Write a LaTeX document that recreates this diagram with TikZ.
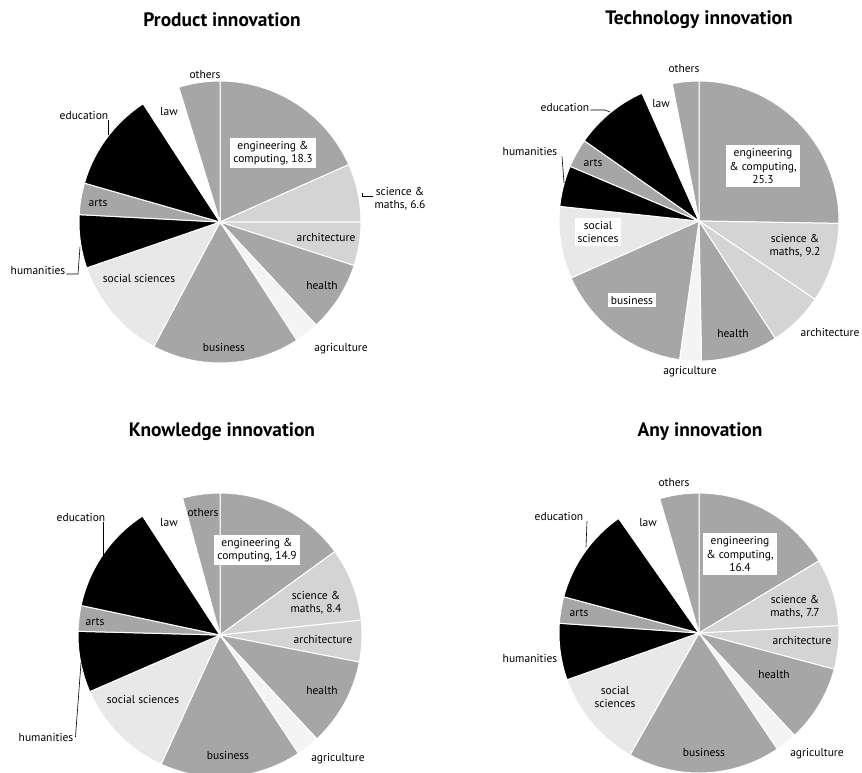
\documentclass[tikz,border=0pt]{standalone}
\usepackage{fontspec}
\setmainfont{PT Sans}
\usepackage{tikz}

\definecolor{dkgray}{HTML}{A6A6A6}
\definecolor{ltgray}{HTML}{D4D4D4}
\definecolor{palegray}{HTML}{E8E8E8}
\definecolor{faintgray}{HTML}{F4F4F4}

\begin{document}
\begin{tikzpicture}[x=1pt,y=1pt,
    sl/.style={draw=white,line width=1pt},
    dk/.style={sl,fill=dkgray},
    lt/.style={sl,fill=ltgray},
    pale/.style={sl,fill=palegray},
    faint/.style={sl,fill=faintgray},
    blk/.style={sl,fill=black},
    wht/.style={sl,fill=white},
    ttl/.style={font=\fontsize{19.4}{22}\selectfont\bfseries},
    lbl/.style={font=\fontsize{11.5}{13.5}\selectfont,align=center,inner sep=1pt},
    box/.style={lbl,fill=white,inner sep=3pt},
    lead/.style={draw=black,line width=0.6pt}]
    \useasboundingbox (0,0) rectangle (862,-772);

    % Product innovation
    \coordinate (pc) at (220,-222);
    \filldraw[dk] (pc) -- ++(90:141) arc[start angle=90,end angle=24,radius=141] -- cycle;
    \filldraw[lt] (pc) -- ++(24:141) arc[start angle=24,end angle=0,radius=141] -- cycle;
    \filldraw[lt] (pc) -- ++(0:141) arc[start angle=0,end angle=-18,radius=141] -- cycle;
    \filldraw[dk] (pc) -- ++(-18:141) arc[start angle=-18,end angle=-47,radius=141] -- cycle;
    \filldraw[faint] (pc) -- ++(-47:141) arc[start angle=-47,end angle=-57,radius=141] -- cycle;
    \filldraw[dk] (pc) -- ++(-57:141) arc[start angle=-57,end angle=-118,radius=141] -- cycle;
    \filldraw[pale] (pc) -- ++(-118:141) arc[start angle=-118,end angle=-161,radius=141] -- cycle;
    \filldraw[blk] (pc) -- ++(-161:141) arc[start angle=-161,end angle=-183,radius=141] -- cycle;
    \filldraw[dk] (pc) -- ++(-183:141) arc[start angle=-183,end angle=-196,radius=141] -- cycle;
    \filldraw[blk] (pc) -- ++(-196:141) arc[start angle=-196,end angle=-237,radius=141] -- cycle;
    \filldraw[wht] (pc) -- ++(-237:141) arc[start angle=-237,end angle=-253,radius=141] -- cycle;
    \filldraw[dk] (pc) -- ++(-253:141) arc[start angle=-253,end angle=-270,radius=141] -- cycle;
    \node[ttl] (pttl) at (222,-20) {Product innovation};
    \node[box] (peng) at (273,-153) {engineering \&\\computing, 18.3};
    \node[lbl] (psci) at (400,-199) {science \&\\maths, 6.6};
    \node[lbl] (parch) at (326,-237) {architecture};
    \node[lbl] (phlth) at (322,-286) {health};
    \node[lbl] (pagri) at (341,-349) {agriculture};
    \node[lbl] (pbus) at (224,-347) {business};
    \node[lbl] (psoc) at (139,-278) {social sciences};
    \node[lbl] (phum) at (38,-270) {humanities};
    \node[lbl] (parts) at (98,-203) {arts};
    \node[lbl] (pedu) at (84,-115) {education};
    \node[lbl] (plaw) at (169,-112) {law};
    \node[lbl] (poth) at (205,-75) {others};
    \coordinate (pscitip) at (362,-193);
    \coordinate (phumtip) at (80,-247);
    \coordinate (pedutip) at (108,-135);
    \draw[lead] (psci.west |- 0,-196) -- (362,-196) -- (pscitip);
    \draw[lead] ([yshift=-4pt]phum.east) -- (78,-274) -- (phumtip);
    \draw[lead] (pedutip |- pedu.south) -- (pedutip);

    % Technology innovation
    \coordinate (tc) at (699,-221);
    \filldraw[dk] (tc) -- ++(90:140) arc[start angle=90,end angle=-1,radius=140] -- cycle;
    \filldraw[lt] (tc) -- ++(-1:140) arc[start angle=-1,end angle=-34,radius=140] -- cycle;
    \filldraw[lt] (tc) -- ++(-34:140) arc[start angle=-34,end angle=-57,radius=140] -- cycle;
    \filldraw[dk] (tc) -- ++(-57:140) arc[start angle=-57,end angle=-89,radius=140] -- cycle;
    \filldraw[faint] (tc) -- ++(-89:140) arc[start angle=-89,end angle=-98,radius=140] -- cycle;
    \filldraw[dk] (tc) -- ++(-98:140) arc[start angle=-98,end angle=-156,radius=140] -- cycle;
    \filldraw[pale] (tc) -- ++(-156:140) arc[start angle=-156,end angle=-186,radius=140] -- cycle;
    \filldraw[blk] (tc) -- ++(-186:140) arc[start angle=-186,end angle=-203,radius=140] -- cycle;
    \filldraw[dk] (tc) -- ++(-203:140) arc[start angle=-203,end angle=-215,radius=140] -- cycle;
    \filldraw[blk] (tc) -- ++(-215:140) arc[start angle=-215,end angle=-246,radius=140] -- cycle;
    \filldraw[wht] (tc) -- ++(-246:140) arc[start angle=-246,end angle=-259,radius=140] -- cycle;
    \filldraw[dk] (tc) -- ++(-259:140) arc[start angle=-259,end angle=-270,radius=140] -- cycle;
    \node[ttl] (tttl) at (699,-20) {Technology innovation};
    \node[box] (teng) at (763,-166) {engineering\\\& computing,\\25.3};
    \node[lbl] (tsci) at (795,-246) {science \&\\maths, 9.2};
    \node[lbl] (tarch) at (830,-332) {architecture};
    \node[lbl] (thlth) at (733,-334) {health};
    \node[lbl] (tagri) at (690,-372) {agriculture};
    \node[box] (tbus) at (632,-300) {business};
    \node[box] (tsoc) at (598,-232) {social\\sciences};
    \node[lbl] (thum) at (530,-151) {humanities};
    \node[lbl] (tarts) at (593,-163) {arts};
    \node[lbl] (tedu) at (565,-107) {education};
    \node[lbl] (tlaw) at (661,-104) {law};
    \node[lbl] (toth) at (684,-69) {others};
    \coordinate (tedutip) at (610,-112);
    \coordinate (thumtip) at (564,-183);
    \draw[lead] (tedu.east |- 0,-110) -- (605,-110) -- (tedutip);
    \draw[lead] (562,-157 |- thum.south) -- (thumtip);

    % Knowledge innovation
    \coordinate (kc) at (220,-635);
    \filldraw[dk] (kc) -- ++(90:142) arc[start angle=90,end angle=36,radius=142] -- cycle;
    \filldraw[lt] (kc) -- ++(36:142) arc[start angle=36,end angle=6,radius=142] -- cycle;
    \filldraw[lt] (kc) -- ++(6:142) arc[start angle=6,end angle=-11,radius=142] -- cycle;
    \filldraw[dk] (kc) -- ++(-11:142) arc[start angle=-11,end angle=-47,radius=142] -- cycle;
    \filldraw[faint] (kc) -- ++(-47:142) arc[start angle=-47,end angle=-56.5,radius=142] -- cycle;
    \filldraw[dk] (kc) -- ++(-56.5:142) arc[start angle=-56.5,end angle=-114.5,radius=142] -- cycle;
    \filldraw[pale] (kc) -- ++(-114.5:142) arc[start angle=-114.5,end angle=-156.5,radius=142] -- cycle;
    \filldraw[blk] (kc) -- ++(-156.5:142) arc[start angle=-156.5,end angle=-181.5,radius=142] -- cycle;
    \filldraw[dk] (kc) -- ++(-181.5:142) arc[start angle=-181.5,end angle=-192,radius=142] -- cycle;
    \filldraw[blk] (kc) -- ++(-192:142) arc[start angle=-192,end angle=-237,radius=142] -- cycle;
    \filldraw[wht] (kc) -- ++(-237:142) arc[start angle=-237,end angle=-254.7,radius=142] -- cycle;
    \filldraw[dk] (kc) -- ++(-254.7:142) arc[start angle=-254.7,end angle=-270,radius=142] -- cycle;
    \node[ttl] (kttl) at (222,-432) {Knowledge innovation};
    \node[box] (keng) at (257,-550) {engineering \&\\computing, 14.9};
    \node[lbl] (ksci) at (316,-603) {science \&\\maths, 8.4};
    \node[lbl] (karch) at (323,-639) {architecture};
    \node[lbl] (khlth) at (322,-691) {health};
    \node[lbl] (kagri) at (338,-759) {agriculture};
    \node[lbl] (kbus) at (228,-755) {business};
    \node[lbl] (ksoc) at (143,-699) {social sciences};
    \node[lbl] (khum) at (46,-737) {humanities};
    \node[lbl] (karts) at (95,-622) {arts};
    \node[lbl] (kedu) at (81,-517) {education};
    \node[lbl] (klaw) at (169,-523) {law};
    \node[lbl] (koth) at (203,-513) {others};
    \coordinate (kedutip) at (103,-556);
    \coordinate (khumtip) at (81,-663);
    \draw[lead] (kedutip |- kedu.south) -- (kedutip);
    \draw[lead] ([xshift=1pt]khum.east) -- (khumtip);

    % Any innovation
    \coordinate (ac) at (699,-633);
    \filldraw[dk] (ac) -- ++(90:140) arc[start angle=90,end angle=31,radius=140] -- cycle;
    \filldraw[lt] (ac) -- ++(31:140) arc[start angle=31,end angle=3,radius=140] -- cycle;
    \filldraw[lt] (ac) -- ++(3:140) arc[start angle=3,end angle=-15,radius=140] -- cycle;
    \filldraw[dk] (ac) -- ++(-15:140) arc[start angle=-15,end angle=-47,radius=140] -- cycle;
    \filldraw[faint] (ac) -- ++(-47:140) arc[start angle=-47,end angle=-56,radius=140] -- cycle;
    \filldraw[dk] (ac) -- ++(-56:140) arc[start angle=-56,end angle=-119.5,radius=140] -- cycle;
    \filldraw[pale] (ac) -- ++(-119.5:140) arc[start angle=-119.5,end angle=-160.5,radius=140] -- cycle;
    \filldraw[blk] (ac) -- ++(-160.5:140) arc[start angle=-160.5,end angle=-184,radius=140] -- cycle;
    \filldraw[dk] (ac) -- ++(-184:140) arc[start angle=-184,end angle=-195,radius=140] -- cycle;
    \filldraw[blk] (ac) -- ++(-195:140) arc[start angle=-195,end angle=-235,radius=140] -- cycle;
    \filldraw[wht] (ac) -- ++(-235:140) arc[start angle=-235,end angle=-253.7,radius=140] -- cycle;
    \filldraw[dk] (ac) -- ++(-253.7:140) arc[start angle=-253.7,end angle=-270,radius=140] -- cycle;
    \node[ttl] (attl) at (700,-432) {Any innovation};
    \node[box] (aeng) at (740,-554) {engineering\\\& computing,\\16.4};
    \node[lbl] (asci) at (795,-607) {science \&\\maths, 7.7};
    \node[lbl] (aarch) at (802,-640) {architecture};
    \node[lbl] (ahlth) at (774,-675) {health};
    \node[lbl] (aagri) at (817,-754) {agriculture};
    \node[lbl] (abus) at (704,-752) {business};
    \node[lbl] (asoc) at (615,-697) {social\\sciences};
    \node[lbl] (ahum) at (530,-658) {humanities};
    \node[lbl] (aarts) at (579,-613) {arts};
    \node[lbl] (aedu) at (559,-516) {education};
    \node[lbl] (alaw) at (648,-523) {law};
    \node[lbl] (aoth) at (674,-483) {others};
    \coordinate (aedutip) at (586,-547);
    \draw[lead] (587,0 |- aedu.south) -- (aedutip);
\end{tikzpicture}
\end{document}
